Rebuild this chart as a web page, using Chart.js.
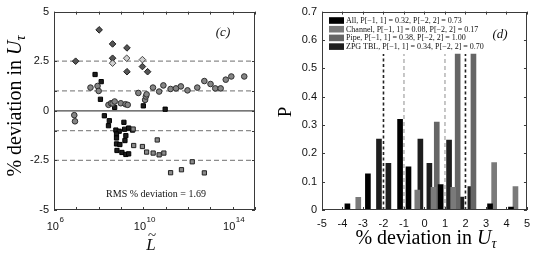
<!DOCTYPE html>
<html>
<head>
<meta charset="utf-8">
<script src="https://cdn.jsdelivr.net/npm/chart.js@4.4.0/dist/chart.umd.min.js"></script>
<style>
  body { margin: 0; background: #fff; }
  #c1 { position: absolute; left: 0; top: 0; }
  #c2 { position: absolute; left: 270px; top: 0; }
</style>
</head>
<body>
<canvas id="c1" width="270" height="258"></canvas>
<canvas id="c2" width="267" height="258"></canvas>
<script>
// ---- panel (c): % deviation vs L~
var diamondL = [9.3e6, 1.05e8, 4.2e8, 4.2e8, 1.85e9, 1.85e9, 9.1e9, 1.55e10];
var diamondDev = [2.5, 4.08, 3.37, 2.65, 3.17, 1.97, 2.23, 1.97];
var diamondLightL = [4.2e8, 1.8e9, 9.1e9];
var diamondLightDev = [2.4, 2.65, 2.58];
var circleL = [8.1e6, 8.7e6, 4.3e7, 8.9e7, 1.0e8, 2.75e8, 3.6e8, 4.2e8, 5.2e8, 9.8e8, 1.6e9, 2.0e9, 6.0e9, 1.2e10, 1.3e10, 1.4e10,
  2.7e10, 5.1e10, 7.9e10, 1.66e11, 2.9e11, 4.8e11, 9.5e11, 2.6e12, 5.4e12, 1.02e13, 1.66e13, 2.9e13, 4.9e13, 8.7e13, 3.3e14];
var circleDev = [-0.22, -0.53, 1.17, 1.25, 1.0, 0.3, 0.38, 0.37, 0.47, 0.38, 0.33, 0.3, 0.9, 0.55, 0.72, 0.83,
  1.17, 0.97, 1.28, 1.1, 1.13, 1.23, 1.03, 1.17, 1.5, 1.35, 1.13, 1.13, 1.57, 1.73, 1.73];
var squareL = [6.9e7, 1.3e8, 1.2e8, 5.2e8, 1.0e10, 9.5e10, 1.8e8, 3.0e8, 2.75e8, 1.35e9, 5.9e8, 8.3e8, 1.45e9, 2.2e9, 3.3e9,
  6.3e8, 6.3e8, 1.65e9, 6.3e8, 8.9e8, 1.5e9, 6.6e8, 1.1e9, 1.65e9, 2.2e9];
var squareDev = [1.83, 1.47, 0.58, 0.17, 0.25, 0.08, -0.25, -0.5, -0.75, -0.58, -0.97, -1.03, -0.93, -0.87, -0.97,
  -1.17, -1.37, -1.25, -1.67, -1.7, -1.5, -2.0, -2.1, -2.2, -2.17];
var squareGrayL = [3.5e9, 3.7e9, 9.1e9, 4.2e10, 1.4e10, 2.75e10, 5.1e10, 8.3e10, 1.55e12, 1.66e11, 5.1e11, 5.4e12];
var squareGrayDev = [-0.92, -1.75, -1.8, -1.47, -2.08, -2.13, -2.22, -2.13, -2.57, -3.12, -2.97, -3.13];
var bandLevels = [2.5, 1, -1, -2.5];
var yTicksC = [-5, -2.5, -1, 0, 1, 2.5, 5];
var xDecadesC = [6, 7, 8, 9, 10, 11, 12, 13, 14, 15];
var xLabelDecadesC = [6, 10, 14];
var rmsText = 'RMS % deviation = 1.69';

// ---- panel (d): histogram of % deviation
var binsAll = [-3.76, -2.76, -1.19, -0.78, 0.79, 3.2, 4.22];
var pAll = [0.022, 0.128, 0.32, 0.152, 0.09, 0.022, 0.01];
var binsChannel = [-3.23, -0.35, 0.44, 1.4, 3.4, 4.44];
var pChannel = [0.045, 0.07, 0.08, 0.08, 0.167, 0.083];
var binsPipe = [0.6, 1.62, 2.39];
var pPipe = [0.31, 0.55, 0.55];
var binsZpg = [-2.22, -1.76, -0.2, 0.24, 1.2, 1.8, 2.24];
var pZpg = [0.25, 0.165, 0.25, 0.165, 0.247, 0.046, 0.083];
var legendNames = ['All', 'Channel', 'Pipe', 'ZPG TBL'];
var legendP11 = ['0.32', '0.08', '0.38', '0.34'];
var legendP22 = ['0.73', '0.17', '1.00', '0.70'];
var legendColors = ['#000000', '#7a7a7a', '#666666', '#1e1e1e'];

function pts(xs, ys) { return xs.map(function (x, i) { return { x: x, y: ys[i] }; }); }

var SERIF = '"Liberation Serif", "DejaVu Serif", serif';
var SANS = '"Liberation Sans", Arial, sans-serif';

// box round the plot with inward ticks on all four sides (matlab style)
var boxTicks = {
  id: 'boxTicks',
  afterDatasetsDraw: function (chart) {
    var a = chart.chartArea, ctx = chart.ctx, sx = chart.scales.x, sy = chart.scales.y;
    ctx.save();
    ctx.strokeStyle = '#3a3a3a';
    ctx.lineWidth = 1;
    ctx.strokeRect(Math.round(a.left) + 0.5, Math.round(a.top) + 0.5, Math.round(a.right - a.left) - 1, Math.round(a.bottom - a.top) - 1);
    ctx.beginPath();
    sx.ticks.forEach(function (t) {
      var px = Math.round(sx.getPixelForValue(t.value)) + 0.5;
      ctx.moveTo(px, a.bottom); ctx.lineTo(px, a.bottom - 3);
      ctx.moveTo(px, a.top); ctx.lineTo(px, a.top + 3);
    });
    sy.ticks.forEach(function (t) {
      var py = Math.round(sy.getPixelForValue(t.value)) + 0.5;
      ctx.moveTo(a.left, py); ctx.lineTo(a.left + 3, py);
      ctx.moveTo(a.right, py); ctx.lineTo(a.right - 3, py);
    });
    ctx.stroke();
    ctx.restore();
  }
};

function drawDevTitle(ctx, cx, baseline, size) {
  var f1 = size + 'px ' + SERIF, f2 = 'italic ' + size + 'px ' + SERIF, f3 = 'italic ' + Math.round(size * 0.7) + 'px ' + SERIF;
  var s1 = '% deviation in ';
  ctx.font = f1; var w1 = ctx.measureText(s1).width;
  ctx.font = f2; var w2 = ctx.measureText('U').width;
  ctx.font = f3; var w3 = ctx.measureText('\u03c4').width;
  var x = cx - (w1 + w2 + w3) / 2;
  ctx.textAlign = 'left';
  ctx.textBaseline = 'alphabetic';
  ctx.fillStyle = '#000';
  ctx.font = f1; ctx.fillText(s1, x, baseline);
  ctx.font = f2; ctx.fillText('U', x + w1, baseline);
  ctx.font = f3; ctx.fillText('\u03c4', x + w1 + w2, baseline + size * 0.2);
}

var textC = {
  id: 'textC',
  afterDraw: function (chart) {
    var ctx = chart.ctx, sx = chart.scales.x;
    ctx.save();
    // x tick labels 10^n
    xLabelDecadesC.forEach(function (e) {
      var px = sx.getPixelForValue(Math.pow(10, e));
      ctx.font = '11px ' + SANS; var w10 = ctx.measureText('10').width;
      ctx.font = '8px ' + SANS; var we = ctx.measureText(String(e)).width;
      var x0 = px - (w10 + we) / 2 + 1;
      ctx.fillStyle = '#111';
      ctx.textAlign = 'left';
      ctx.textBaseline = 'alphabetic';
      ctx.font = '11px ' + SANS; ctx.fillText('10', x0, 230);
      ctx.font = '8px ' + SANS; ctx.fillText(String(e), x0 + w10 + 0.5, 222);
    });
    // x title L~
    ctx.font = 'italic 17px ' + SERIF;
    ctx.textAlign = 'center';
    ctx.fillText('L', 151, 250);
    ctx.font = '15px ' + SERIF;
    ctx.fillText('~', 152, 240);
    // y title
    ctx.save();
    ctx.translate(21, 106);
    ctx.rotate(-Math.PI / 2);
    drawDevTitle(ctx, 0, 0, 20);
    ctx.restore();
    // panel tag and rms note
    ctx.fillStyle = '#111';
    ctx.textAlign = 'center';
    ctx.font = 'italic 13px ' + SERIF;
    ctx.fillText('(c)', 223, 36);
    ctx.font = '10px ' + SERIF;
    ctx.fillText(rmsText, 156, 197);
    ctx.restore();
  }
};

var textD = {
  id: 'textD',
  afterDraw: function (chart) {
    var ctx = chart.ctx;
    ctx.save();
    drawDevTitle(ctx, 156, 244, 20);
    ctx.save();
    ctx.translate(21, 112);
    ctx.rotate(-Math.PI / 2);
    ctx.font = '19px ' + SERIF;
    ctx.textAlign = 'center';
    ctx.fillStyle = '#000';
    ctx.fillText('P', 0, 0);
    ctx.restore();
    ctx.font = 'italic 13px ' + SERIF;
    ctx.textAlign = 'center';
    ctx.fillStyle = '#111';
    ctx.fillText('(d)', 230, 38);
    // legend
    ctx.textAlign = 'left';
    ctx.textBaseline = 'middle';
    ctx.font = '8px ' + SERIF;
    legendNames.forEach(function (n, i) {
      var y = 20.5 + i * 8.7;
      ctx.fillStyle = legendColors[i];
      ctx.fillRect(59, y - 3.3, 15, 6.6);
      ctx.fillStyle = '#111';
      ctx.fillText(n + ', P[\u22121, 1] = ' + legendP11[i] + ', P[\u22122, 2] = ' + legendP22[i], 76, y + 0.5);
    });
    ctx.restore();
  }
};

var bandSets = bandLevels.map(function (v) {
  return {
    data: pts([1e6, 1e15], [v, v]), showLine: true, pointRadius: 0,
    borderColor: '#8c8c8c', borderWidth: 1.3, borderDash: [5, 3], order: 10
  };
});
bandSets.push({
  data: pts([1e6, 1e15], [0, 0]), showLine: true, pointRadius: 0,
  borderColor: '#4a4a4a', borderWidth: 1.3, order: 10
});

new Chart(document.getElementById('c1'), {
  type: 'scatter',
  data: {
    datasets: bandSets.concat([
      { data: pts(circleL, circleDev), pointStyle: 'circle', pointRadius: 2.8, backgroundColor: '#858585', borderColor: '#2e2e2e', borderWidth: 1 },
      { data: pts(squareGrayL, squareGrayDev), pointStyle: 'rect', pointRadius: 3, backgroundColor: '#8a8a8a', borderColor: '#222', borderWidth: 1 },
      { data: pts(squareL, squareDev), pointStyle: 'rect', pointRadius: 3, backgroundColor: '#1c1c1c', borderColor: '#000', borderWidth: 1 },
      { data: pts(diamondLightL, diamondLightDev), pointStyle: 'rectRot', pointRadius: 3.3, backgroundColor: '#d0d0d0', borderColor: '#444', borderWidth: 1 },
      { data: pts(diamondL, diamondDev), pointStyle: 'rectRot', pointRadius: 3.3, backgroundColor: '#555', borderColor: '#1e1e1e', borderWidth: 1 }
    ])
  },
  options: {
    responsive: false,
    animation: false,
    devicePixelRatio: 1,
    layout: { padding: { left: 0, top: 10, right: 15, bottom: 0 } },
    plugins: { legend: { display: false }, tooltip: { enabled: false } },
    scales: {
      x: {
        type: 'logarithmic', min: 1e6, max: 1e15,
        grid: { display: false, drawTicks: false },
        border: { display: false },
        ticks: { display: false },
        afterBuildTicks: function (s) { s.ticks = xDecadesC.map(function (e) { return { value: Math.pow(10, e) }; }); },
        afterFit: function (s) { s.height = 48; }
      },
      y: {
        min: -5, max: 5,
        grid: { display: false, drawTicks: false },
        border: { display: false },
        ticks: {
          padding: 5, color: '#111', font: { family: SANS, size: 11 },
          callback: function (v) { return (v === 1 || v === -1) ? '' : String(v); }
        },
        afterBuildTicks: function (s) { s.ticks = yTicksC.map(function (v) { return { value: v }; }); },
        afterFit: function (s) { s.width = 54; }
      }
    }
  },
  plugins: [boxTicks, textC]
});

function barSet(xs, ys, color) {
  return { type: 'bar', data: pts(xs, ys), backgroundColor: color, barThickness: 5, grouped: false, order: 5 };
}
function vline(x, color, dash, width) {
  return { type: 'line', data: pts([x, x], [0, 0.55]), borderColor: color, borderDash: dash, borderWidth: width, pointRadius: 0, fill: false, order: 1 };
}

new Chart(document.getElementById('c2'), {
  type: 'bar',
  data: {
    datasets: [
      barSet(binsAll, pAll, legendColors[0]),
      barSet(binsChannel, pChannel, legendColors[1]),
      barSet(binsPipe, pPipe, legendColors[2]),
      barSet(binsZpg, pZpg, legendColors[3]),
      vline(-2, '#222', [3, 2.5], 1.6),
      vline(2, '#222', [3, 2.5], 1.6),
      vline(-1, '#b4b4b4', [4, 3], 1.5),
      vline(1, '#b4b4b4', [4, 3], 1.5)
    ]
  },
  options: {
    responsive: false,
    animation: false,
    devicePixelRatio: 1,
    layout: { padding: { left: 0, top: 11, right: 9, bottom: 0 } },
    plugins: { legend: { display: false }, tooltip: { enabled: false } },
    scales: {
      x: {
        type: 'linear', min: -5, max: 5, offset: false,
        grid: { display: false, drawTicks: false },
        border: { display: false },
        ticks: { stepSize: 1, padding: 7, color: '#111', font: { family: SANS, size: 11 } },
        afterFit: function (s) { s.height = 48; }
      },
      y: {
        min: 0, max: 0.7,
        grid: { display: false, drawTicks: false },
        border: { display: false },
        ticks: {
          stepSize: 0.1, padding: 5, color: '#111', font: { family: SANS, size: 11 },
          callback: function (v) { return v === 0 ? '0' : v.toFixed(1); }
        },
        afterFit: function (s) { s.width = 52; }
      }
    }
  },
  plugins: [boxTicks, textD]
});
</script>
</body>
</html>
